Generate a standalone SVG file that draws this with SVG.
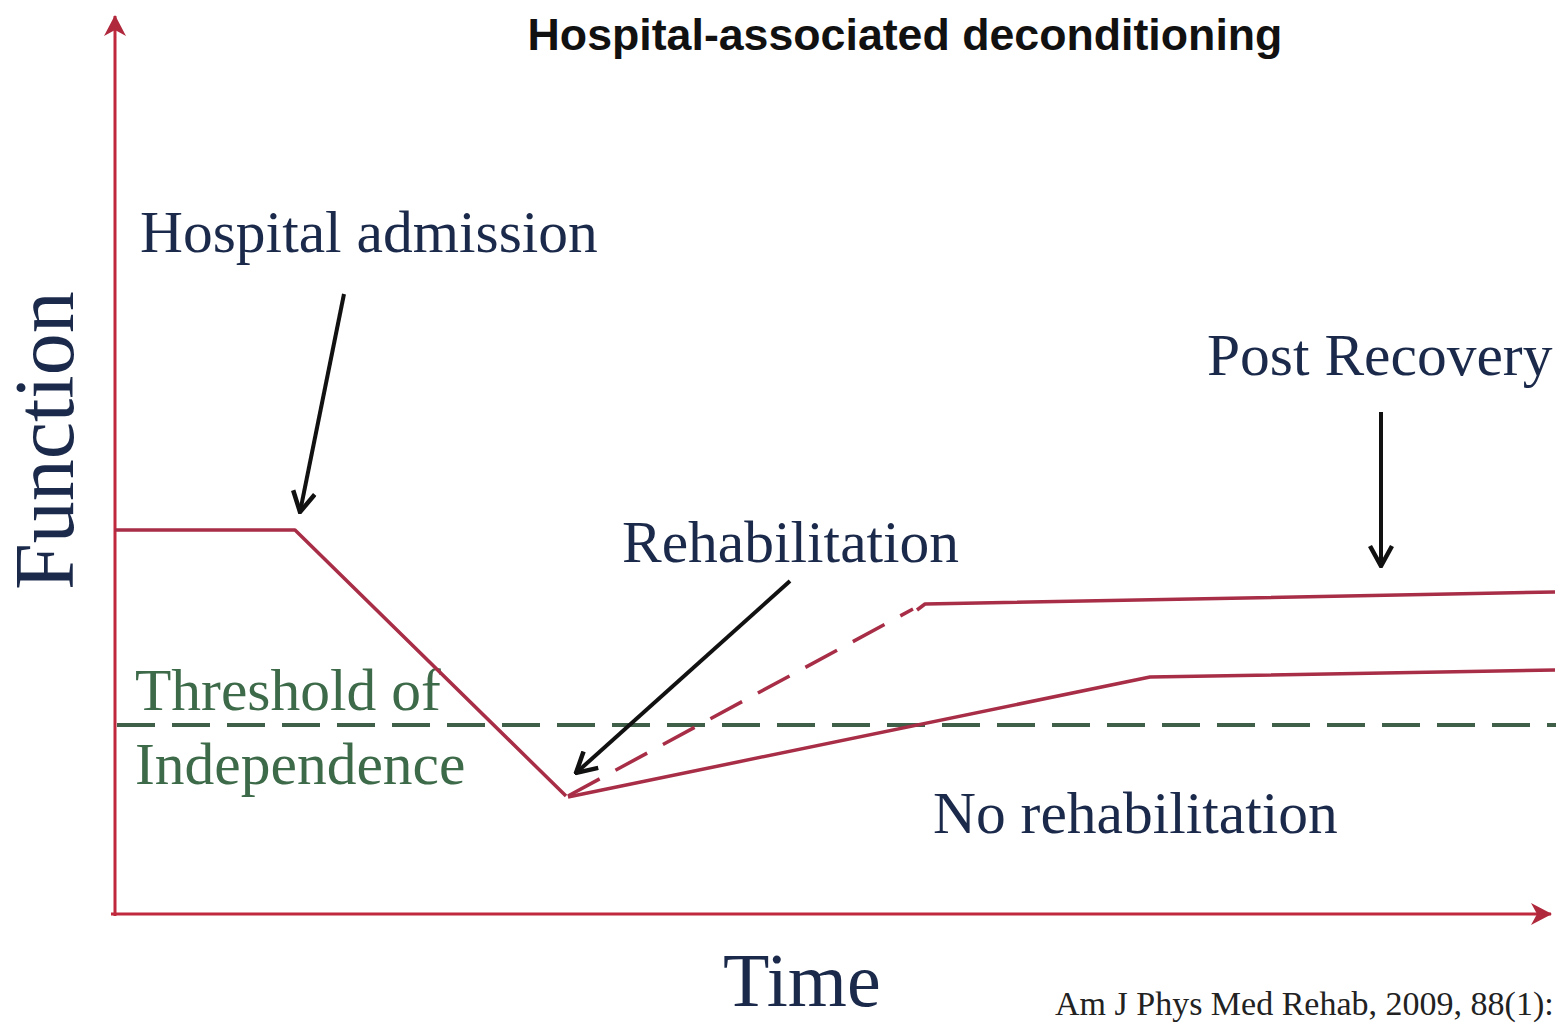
<svg xmlns="http://www.w3.org/2000/svg" width="1560" height="1024" viewBox="0 0 1560 1024">
  <style>
    .serif { font-family: "Liberation Serif", "Times New Roman", serif; font-size: 59.5px; }
    .navy { fill: #1b2a4b; }
    .green { fill: #3d6a49; }
    .axis { stroke: #c0283d; stroke-width: 3; fill: none; }
    .curve { stroke: #a82d46; stroke-width: 3.5; fill: none; stroke-linejoin: round; }
    .dash-red { stroke-dasharray: 36 18; }
    .threshold { stroke: #3f5f48; stroke-width: 4; stroke-dasharray: 38 17; fill: none; }
    .pointer { stroke: #111; stroke-width: 4; fill: none; marker-end: url(#vhead); }
  </style>
  <defs>
    <marker id="vhead" viewBox="0 0 24 26" refX="22" refY="13" markerWidth="24" markerHeight="26" markerUnits="userSpaceOnUse" orient="auto">
      <path d="M2,2 L22,13 L2,24" fill="none" stroke="#111" stroke-width="4.5" stroke-linejoin="miter"/>
    </marker>
    <marker id="axhead" viewBox="0 0 22 24" refX="20" refY="12" markerWidth="22" markerHeight="24" markerUnits="userSpaceOnUse" orient="auto">
      <path d="M0,1 L21,12 L0,23 L6,12 Z" fill="#b0283c"/>
    </marker>
  </defs>

  <rect width="1560" height="1024" fill="#ffffff"/>

  <!-- title -->
  <text id="title" x="905" y="50" text-anchor="middle" font-family="'Liberation Sans', Arial, sans-serif" font-weight="bold" font-size="44.7" fill="#111">Hospital-associated deconditioning</text>

  <!-- axes -->
  <g id="axes">
    <line class="axis" x1="115" y1="916" x2="115" y2="16" marker-end="url(#axhead)"/>
    <line class="axis" x1="111" y1="914" x2="1551" y2="914" marker-end="url(#axhead)"/>
    <text id="y-label" class="serif navy" style="font-size:84px" transform="translate(73,590) rotate(-90)">Function</text>
    <text id="x-label" class="serif navy" style="font-size:76px" x="723" y="1006">Time</text>
  </g>

  <!-- threshold of independence -->
  <g id="threshold">
    <line class="threshold" x1="117" y1="725" x2="1556" y2="725"/>
    <text class="serif green" x="135" y="710">Threshold of</text>
    <text class="serif green" x="135" y="784">Independence</text>
  </g>

  <!-- function trajectories -->
  <g id="connectors">
    <polyline class="curve" points="115,530 295,530 566,796"/>
    <line class="curve dash-red" x1="568" y1="796" x2="913" y2="609"/>
    <polyline class="curve" points="917,610 925,604 1555,592"/>
    <polyline class="curve" points="568,797 1150,677 1555,670"/>

    <line class="pointer" x1="344" y1="294" x2="300" y2="512"/>
    <line class="pointer" x1="790" y1="581" x2="576" y2="773"/>
    <line class="pointer" x1="1381" y1="412" x2="1381" y2="566"/>
  </g>

  <!-- labels -->
  <g id="label-admission"><text class="serif navy" x="140" y="252">Hospital admission</text></g>
  <g id="label-post-recovery"><text class="serif navy" x="1207" y="375">Post Recovery</text></g>
  <g id="label-rehabilitation"><text class="serif navy" x="622" y="562">Rehabilitation</text></g>
  <g id="label-no-rehabilitation"><text class="serif navy" x="933" y="833">No rehabilitation</text></g>

  <!-- reference -->
  <text id="citation" x="1055" y="1015" font-family="'Liberation Serif', 'Times New Roman', serif" font-size="34" fill="#222">Am J Phys Med Rehab, 2009, 88(1):</text>
</svg>
